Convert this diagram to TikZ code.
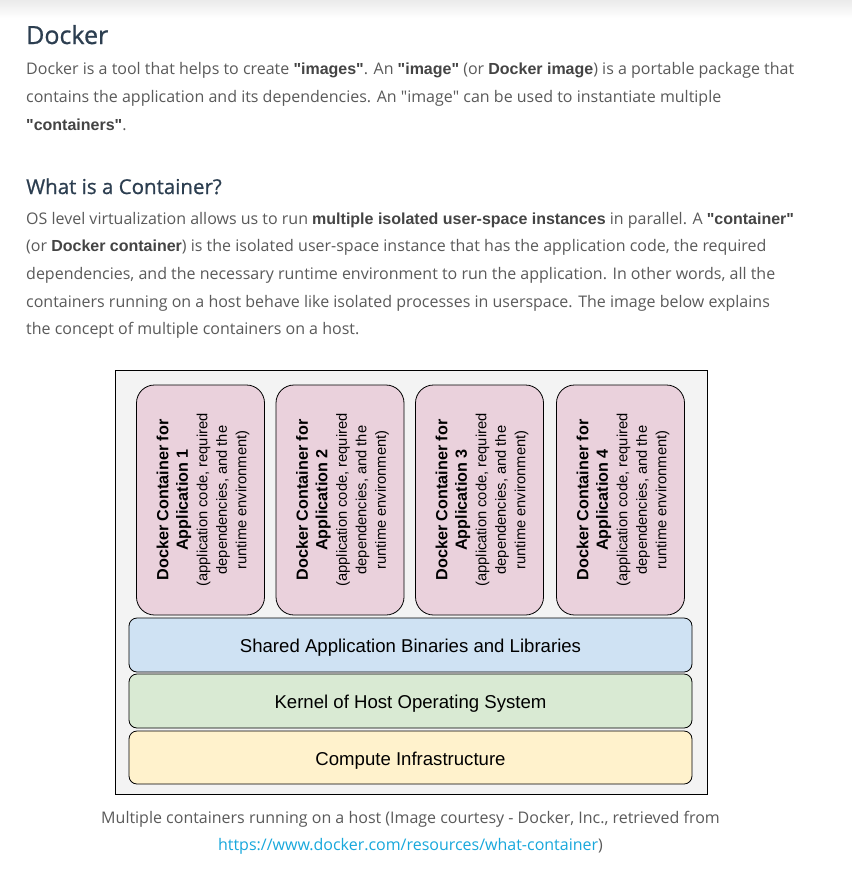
\documentclass[tikz,border=0pt]{standalone}
\usepackage{fontspec}
\setmainfont{Open Sans}
\newfontfamily\headf{Open Sans}[FakeBold=0.8]
\newfontfamily\arialf{Liberation Sans}
\definecolor{bodygray}{HTML}{5A5A5A}
\definecolor{boldgray}{HTML}{444444}
\definecolor{headcol}{HTML}{2C3E50}
\definecolor{linkcol}{HTML}{18A8DC}
\definecolor{outerfill}{HTML}{F3F3F3}
\definecolor{pinkfill}{HTML}{EAD1DC}
\definecolor{bluefill}{HTML}{CFE2F3}
\definecolor{greenfill}{HTML}{D9EAD3}
\definecolor{yellowfill}{HTML}{FFF2CC}
\newcommand\bb[1]{{\arialf\bfseries\color{boldgray}#1}}
\newcommand\qq{\textquotedbl}
\tikzset{
  bodyline/.style={anchor=base west, inner sep=0pt, font=\fontsize{16}{19}\selectfont, text=bodygray},
  headline/.style={anchor=base west, inner sep=0pt, text=headcol},
  capline/.style={anchor=base, inner sep=0pt, font=\fontsize{16}{19}\selectfont, text=bodygray},
  contbox/.style={draw=black, fill=pinkfill, rounded corners=18pt, line width=0.8pt, minimum width=128pt, minimum height=230pt, inner sep=0pt},
  conttext/.style={rotate=90, align=center, inner sep=0pt, font=\arialf\fontsize{14.7}{19.5}\selectfont, text=black},
  layerbox/.style={draw=black, rounded corners=8pt, line width=0.8pt, minimum width=563pt, inner sep=0pt, text height=15.4pt, text depth=0pt, font=\arialf\fontsize{18.6}{22}\selectfont, text=black},
}
\begin{document}
\begin{tikzpicture}[x=1pt,y=-1pt]
\useasboundingbox (0,0) rectangle (852,871);
\fill[white] (0,0) rectangle (852,871);
\shade[top color=black!8, bottom color=white] (0,0) rectangle (852,18);
% headings and body
\node[headline, font=\headf\fontsize{25}{29}\selectfont] (h1) at (26,44) {Docker};
\node[bodyline] (p1) at (26,74) {Docker is a tool that helps to create \bb{"images"}. An \bb{"image"} (or \bb{Docker image}) is a portable package that};
\node[bodyline] (p2) at (26,102) {contains the application and its dependencies. An \qq image\qq{} can be used to instantiate multiple};
\node[bodyline] (p3) at (26,130) {\bb{"containers"}.};
\node[headline, font=\headf\fontsize{20.5}{24}\selectfont] (h2) at (26,194) {What is a Container?};
\node[bodyline] (q1) at (26,224) {OS level virtualization allows us to run \bb{multiple isolated user-space instances} in parallel. A \bb{"container"}};
\node[bodyline] (q2) at (26,251.7) {(or \bb{Docker container}) is the isolated user-space instance that has the application code, the required};
\node[bodyline] (q3) at (26,279.3) {dependencies, and the necessary runtime environment to run the application. In other words, all the};
\node[bodyline] (q4) at (26,307) {containers running on a host behave like isolated processes in userspace. The image below explains};
\node[bodyline] (q5) at (26,334.6) {the concept of multiple containers on a host.};
% diagram
\draw[fill=outerfill, line width=0.9pt] (115,370) rectangle (707.5,794.5);
\foreach \i/\cx in {1/200.5,2/340,3/479.5,4/620.5}{
  \node[contbox] (c\i) at (\cx,500) {};
  \node[conttext] (t\i) at ([xshift=2.5pt]c\i.center) {{\fontsize{16.2}{20.5}\selectfont\bfseries Docker Container for}\\{\fontsize{16.2}{20.5}\selectfont\bfseries Application \i}\\(application code, required\\dependencies, and the\\runtime environment)};
}
\node[layerbox, fill=bluefill, minimum height=54pt] (l1) at (410.5,645) {Shared Application Binaries and Libraries};
\node[layerbox, fill=greenfill, minimum height=54pt] (l2) at (410.5,701) {Kernel of Host Operating System};
\node[layerbox, fill=yellowfill, minimum height=53pt] (l3) at (410.5,757.5) {Compute Infrastructure};
% caption
\node[capline] (cap1) at (410.5,823) {Multiple containers running on a host (Image courtesy - Docker, Inc., retrieved from};
\node[capline] (cap2) at (410.5,850.7) {\textcolor{linkcol}{https://www.docker.com/resources/what-container})};
\end{tikzpicture}
\end{document}
